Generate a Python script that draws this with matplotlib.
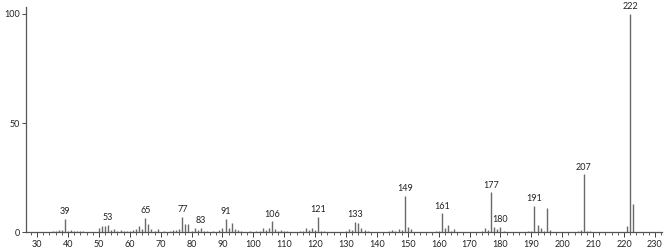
import matplotlib
matplotlib.use("Agg")
import matplotlib.pyplot as plt
from matplotlib.ticker import MultipleLocator

plt.rcParams['font.family'] = ['Lato', 'DejaVu Sans']

mz = [35, 36, 37, 38, 39, 40, 41, 42, 43, 44, 45, 46,
      50, 51, 52, 53, 54, 55, 56, 57, 58, 59, 60, 61, 62, 63, 64,
      65, 66, 67, 68, 69, 71, 73, 74, 75, 76, 77, 78, 79, 80, 81, 82, 83, 84, 85, 87,
      89, 90, 91, 92, 93, 94, 95, 96,
      99, 101, 102, 103, 104, 105, 106, 107, 108, 109, 110, 111, 113, 115, 116, 117, 118,
      119, 120, 121, 122, 123, 125, 127,
      130, 131, 132, 133, 134, 135, 136, 137, 138,
      144, 145, 146, 147, 148, 149, 150, 151, 152,
      158, 159, 160, 161, 162, 163, 164, 165,
      174, 175, 176, 177, 178, 179, 180, 181,
      189, 190, 191, 192, 193, 194, 195, 196,
      205, 206, 207, 208, 209,
      221, 222, 223]
intensity = [0.5, 0.8, 1.0, 1.2, 6.1, 0.8, 1.0, 0.5, 0.8, 0.5, 0.5, 0.3,
             1.8, 2.8, 3.0, 3.5, 1.2, 1.5, 0.6, 1.0, 0.5, 0.6, 0.8, 1.0, 1.5, 3.0, 1.5,
             6.6, 3.8, 1.5, 0.8, 1.5, 0.5, 0.6, 1.0, 1.0, 1.5, 7.2, 3.7, 3.7, 0.8, 1.8, 1.0, 2.1, 0.6, 0.4, 0.5,
             1.0, 2.0, 6.1, 2.0, 4.3, 1.5, 1.2, 0.5,
             0.4, 0.8, 0.8, 1.8, 1.0, 2.0, 5.0, 1.6, 0.8, 1.0, 0.6, 0.5, 0.3, 0.8, 0.8, 1.8, 1.2,
             2.2, 1.0, 6.9, 0.8, 0.6, 0.3, 0.3,
             0.5, 1.5, 1.0, 4.6, 4.1, 2.0, 1.0, 0.6, 0.3,
             0.5, 1.2, 0.8, 1.5, 1.0, 16.7, 2.3, 1.6, 0.3,
             0.3, 0.6, 0.8, 8.7, 2.0, 3.3, 0.8, 1.3,
             0.5, 2.0, 1.2, 18.3, 2.4, 1.5, 2.6, 0.8,
             0.4, 0.5, 12.0, 3.2, 2.0, 0.8, 11.0, 1.0,
             0.4, 1.0, 26.5, 0.8, 0.5,
             3.0, 100.0, 13.0]
labeled = [39, 53, 65, 77, 83, 91, 106, 121, 133, 149, 161, 177, 180, 191, 207, 222]

fig = plt.figure(figsize=(6.67, 2.49), dpi=100)
ax = fig.add_axes([0.039, 0.067, 0.9535, 0.905])

ax.vlines(mz, 0, intensity, colors='#6a6a6a', linewidth=1.0)

lookup = dict(zip(mz, intensity))
for m in labeled:
    ax.annotate(str(m), (m, lookup[m]), xytext=(0, 2), textcoords='offset points',
                ha='center', va='bottom', fontsize=6.5, color='#222222')

ax.set_xlim(26.4, 232.3)
ax.set_ylim(0, 103.2)
ax.xaxis.set_major_locator(MultipleLocator(10))
ax.xaxis.set_minor_locator(MultipleLocator(2))
ax.set_yticks([0, 50, 100])
ax.tick_params(axis='x', which='major', length=3.5, width=0.7, color='#444444',
               labelsize=6.5, pad=2, labelcolor='#222222')
ax.tick_params(axis='x', which='minor', length=2, width=0.6, color='#444444')
ax.tick_params(axis='y', which='major', length=3, width=0.7, color='#444444',
               labelsize=6.5, pad=1.5, labelcolor='#222222')
for s in ['top', 'right']:
    ax.spines[s].set_visible(False)
for s in ['left', 'bottom']:
    ax.spines[s].set_color('#555555')
    ax.spines[s].set_linewidth(0.9)

fig.savefig('out.png', dpi=100)
